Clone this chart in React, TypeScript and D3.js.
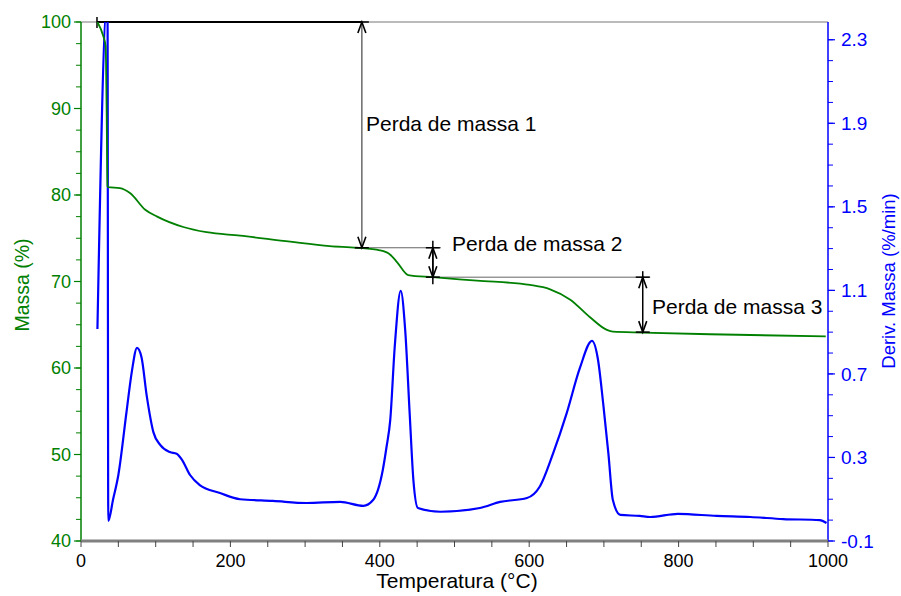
import React from 'react';
import * as d3 from 'd3';

// mass curve (temperature °C, mass %)
const massTemp = [22, 29.7, 33, 34.3, 35.5, 36.5, 52, 66, 86, 102, 137, 168, 213, 280, 333, 369, 400, 414, 423, 438, 471, 530, 601, 628, 655, 681, 704, 712, 752, 842, 997];
const massVal = [100, 98.4, 97.2, 90, 81.0, 80.9, 80.8, 80.2, 78.3, 77.5, 76.3, 75.7, 75.3, 74.6, 74.1, 73.9, 73.6, 73.1, 72.25, 70.75, 70.5, 70.1, 69.6, 69.1, 67.9, 65.9, 64.4, 64.2, 64.1, 63.9, 63.65];

// derivative curve (temperature °C, %/min)
const derivTemp = [22, 34.5, 35.5, 36.5, 43, 50, 61, 68, 75, 81, 88, 97, 106, 119, 128, 135, 146, 159, 186, 213, 257, 302, 347, 378, 391, 404, 409, 414, 420, 428, 434, 440, 445, 451, 481, 534, 561, 597, 614, 632, 650, 668, 684, 692, 699, 706, 712, 722, 748, 762, 799, 851, 896, 940, 989, 998];
const derivVal = [0.915, 2.45, 2.45, -0.004, 0.1, 0.216, 0.52, 0.71, 0.825, 0.78, 0.595, 0.42, 0.36, 0.326, 0.318, 0.29, 0.216, 0.168, 0.13, 0.10, 0.092, 0.082, 0.087, 0.068, 0.096, 0.24, 0.35, 0.48, 0.83, 1.098, 0.91, 0.51, 0.19, 0.058, 0.04, 0.058, 0.087, 0.106, 0.16, 0.32, 0.51, 0.73, 0.858, 0.77, 0.56, 0.32, 0.096, 0.025, 0.02, 0.015, 0.03, 0.02, 0.015, 0.005, 0.0, -0.014];

const xTicks = [0, 200, 400, 600, 800, 1000];
const leftTicks = [40, 50, 60, 70, 80, 90, 100];
const rightTicks = [-0.1, 0.3, 0.7, 1.1, 1.5, 1.9, 2.3];

// mass-loss steps: [temperature of arrow, mass top, mass bottom]
const stepLabels = ['Perda de massa 1', 'Perda de massa 2', 'Perda de massa 3'];
const stepTemp = [376, 471, 752];
const stepTop = [100, 73.9, 70.5];
const stepBottom = [73.9, 70.5, 64.15];

const W = 901, H = 596;
const m = { left: 81, right: 73, top: 22, bottom: 55 };
const FONT = '"Liberation Sans", Arial, sans-serif';
const GREEN = '#008000';
const BLUE = '#0000ff';

export default function App() {
  const x = d3.scaleLinear().domain([0, 1000]).range([m.left, W - m.right]);
  const yL = d3.scaleLinear().domain([40, 100]).range([H - m.bottom, m.top]);
  const yR = d3.scaleLinear().domain([-0.1, 2.385]).range([H - m.bottom, m.top]);

  const massLine = d3.line<number>().x((d, i) => x(massTemp[i])).y(d => yL(d)).curve(d3.curveMonotoneX);
  const derivLine = d3.line<number>().x((d, i) => x(derivTemp[i])).y(d => yR(d)).curve(d3.curveMonotoneX);

  const x0 = x(0), x1 = x(1000), yTop = yL(100), yBot = yL(40);

  const leftMinor = d3.range(40, 100.01, 2.5);
  const rightMinor = d3.range(-0.1, 2.31, 0.1);
  const xMinor = d3.range(0, 1000.01, 50);

  const arrowHead = (ax: number, ay: number, dir: number) =>
    `M${ax - 4},${ay - dir * 11}L${ax},${ay}L${ax + 4},${ay - dir * 11}`;

  const arrows = stepTemp.map((t, i) => {
    const ax = x(t);
    const ya = yL(stepTop[i]);
    const yb = yL(stepBottom[i]);
    return { ax, ya, yb };
  });

  return (
    <svg width={W} height={H} style={{ position: 'absolute', left: 0, top: 0, background: '#fff' }} fontFamily={FONT}>
      <defs>
        <clipPath id="plot">
          <rect x={x0} y={yTop} width={x1 - x0} height={yBot - yTop} />
        </clipPath>
      </defs>

      {/* frame top */}
      <line x1={x0} x2={x1} y1={yTop} y2={yTop} stroke="#777" strokeWidth={1} />

      {/* annotation guide lines */}
      <line x1={x(21.4)} x2={arrows[0].ax} y1={yTop} y2={yTop} stroke="#000" strokeWidth={2} />
      <line x1={x(21.4)} x2={x(21.4)} y1={yTop - 5} y2={yTop + 6} stroke="#000" strokeWidth={1.5} />
      <line x1={x(366)} x2={x(482)} y1={arrows[1].ya} y2={arrows[1].ya} stroke="#666" strokeWidth={1} />
      <line x1={arrows[1].ax} x2={x(762)} y1={arrows[2].ya} y2={arrows[2].ya} stroke="#666" strokeWidth={1} />
      <line x1={arrows[1].ax} x2={arrows[1].ax} y1={arrows[1].ya - 7} y2={arrows[1].yb + 7} stroke="#000" strokeWidth={1.5} />
      <line x1={arrows[2].ax} x2={arrows[2].ax} y1={arrows[2].ya - 6} y2={arrows[2].ya} stroke="#000" strokeWidth={1.5} />

      {/* curves */}
      <g clipPath="url(#plot)">
        <path d={derivLine(derivVal) || ''} fill="none" stroke={BLUE} strokeWidth={2.2} strokeLinejoin="round" />
        <path d={massLine(massVal) || ''} fill="none" stroke={GREEN} strokeWidth={1.8} strokeLinejoin="round" />
      </g>

      {/* arrows */}
      {arrows.map((a, i) => (
        <g key={i}>
          <line x1={a.ax} x2={a.ax} y1={a.ya} y2={a.yb} stroke={i === 0 ? '#444' : '#000'} strokeWidth={i === 0 ? 1.2 : 1.5} />
          <path d={arrowHead(a.ax, a.ya, -1)} fill="none" stroke="#000" strokeWidth={1.6} />
          <path d={arrowHead(a.ax, a.yb, 1)} fill="none" stroke="#000" strokeWidth={1.6} />
          <line x1={a.ax - 7} x2={a.ax + 7} y1={a.yb} y2={a.yb} stroke="#000" strokeWidth={1.5} />
          <line x1={a.ax - 7} x2={a.ax + 7} y1={a.ya} y2={a.ya} stroke="#000" strokeWidth={1.5} />
        </g>
      ))}
      <text x={366} y={131} fontSize={21} fill="#000">{stepLabels[0]}</text>
      <text x={452} y={251} fontSize={21} fill="#000">{stepLabels[1]}</text>
      <text x={652} y={314} fontSize={21} fill="#000">{stepLabels[2]}</text>

      {/* left axis */}
      <line x1={x0} x2={x0} y1={yTop} y2={yBot} stroke={GREEN} strokeWidth={1.5} />
      {leftMinor.map(v => (
        <line key={'lm' + v} x1={x0 - 5} x2={x0} y1={yL(v)} y2={yL(v)} stroke={GREEN} strokeWidth={1} />
      ))}
      {leftTicks.map(v => (
        <g key={'l' + v}>
          <line x1={x0 - 7} x2={x0} y1={yL(v)} y2={yL(v)} stroke={GREEN} strokeWidth={1.2} />
          <text x={x0 - 10} y={yL(v)} dy="0.35em" textAnchor="end" fontSize={18} fill={GREEN}>{v}</text>
        </g>
      ))}
      <text transform={`translate(29,285) rotate(-90)`} textAnchor="middle" fontSize={19.5} fill={GREEN}>Massa (%)</text>

      {/* right axis */}
      <line x1={x1} x2={x1} y1={yTop} y2={yBot} stroke={BLUE} strokeWidth={1.5} />
      {rightMinor.map(v => (
        <line key={'rm' + v} x1={x1} x2={x1 + 5} y1={yR(v)} y2={yR(v)} stroke={BLUE} strokeWidth={1} />
      ))}
      {rightTicks.map(v => (
        <g key={'r' + v}>
          <line x1={x1} x2={x1 + 7} y1={yR(v)} y2={yR(v)} stroke={BLUE} strokeWidth={1.2} />
          <text x={x1 + 13} y={yR(v)} dy="0.35em" textAnchor="start" fontSize={19} fill={BLUE}>{v.toFixed(1)}</text>
        </g>
      ))}
      <text transform={`translate(895,281) rotate(-90)`} textAnchor="middle" fontSize={18.5} fill={BLUE}>Deriv. Massa (%/min)</text>

      {/* bottom axis */}
      <line x1={x0} x2={x1} y1={yBot} y2={yBot} stroke="#808080" strokeWidth={3} />
      {xMinor.map(v => (
        <line key={'xm' + v} x1={x(v)} x2={x(v)} y1={yBot} y2={yBot + 6} stroke="#444" strokeWidth={1} />
      ))}
      {xTicks.map(v => (
        <text key={'x' + v} x={x(v)} y={yBot + 26} textAnchor="middle" fontSize={18} fill="#000">{v}</text>
      ))}
      <text x={457} y={588} textAnchor="middle" fontSize={21} fill="#000">Temperatura (°C)</text>
    </svg>
  );
}
